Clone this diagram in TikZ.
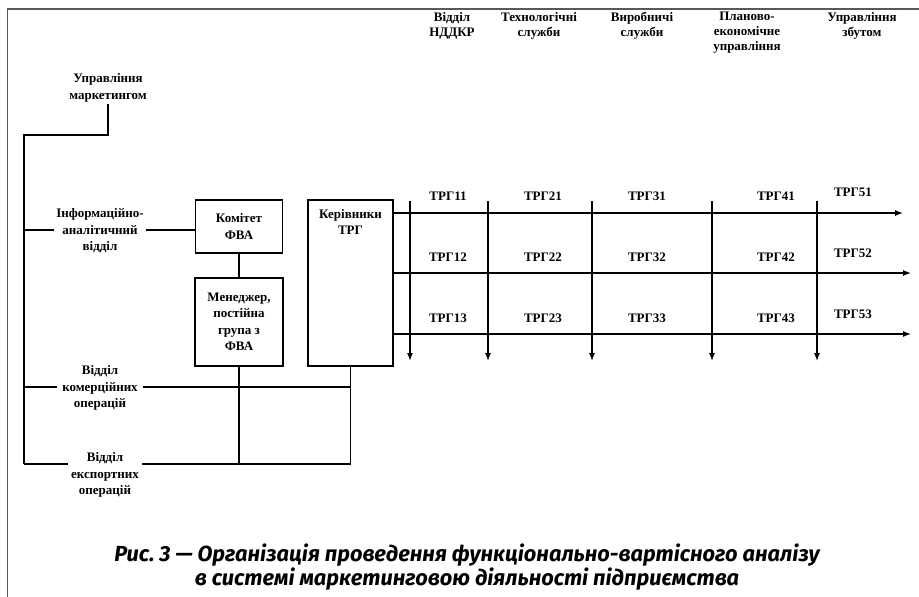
\documentclass[tikz,border=0pt]{standalone}
\usepackage{fontspec}
\setmainfont{Liberation Serif}
\newfontfamily\capfont{Fira Sans}
\usetikzlibrary{calc,arrows.meta}

\begin{document}
\begin{tikzpicture}[x=1pt,y=-1pt]

\tikzset{dept/.style={font=\fontsize{13}{16.5}\selectfont\bfseries, align=center, inner sep=2pt},
head/.style={font=\fontsize{13}{15}\selectfont\bfseries, align=center},
box/.style={dept, draw, line width=1.2pt},
link/.style={line width=1.1pt},
arr/.style={link, -{Latex[length=8pt,width=6pt]}}}

\useasboundingbox (0,0) rectangle (919,597);
\draw[gray!70!black, line width=1.5pt] (919,9) -| (7.5,597);

% boxes
\node[box, minimum width=87, minimum height=53] (komitet) at (239,226.5) {Комітет\\ФВА};
\node[box, minimum width=88, minimum height=88] (manager) at (239,322) {Менеджер,\\постійна\\група з\\ФВА};
\node[box, minimum width=85, minimum height=166] (ker) at (350.5,283) {};
\node[dept] (kertxt) at (350.5,222) {Керівники\\ТРГ};
\node[dept] (market) at (108,88) {Управління\\маркетингом};

% left bus
\coordinate (b1) at (24,135);
\coordinate (b2) at (24,230);
\coordinate (b3) at (24,387);
\coordinate (b4) at (24,464);
\draw[link] (market.south) |- (b1) -- (b4);
\draw[link] (b2) -- (komitet.west |- b2);
\draw[link] (komitet) -- (manager);
\draw[link] (b3) -- (ker.south |- b3);
\draw[link] (manager.south) -- (manager.south |- b4);
\draw[link] (ker.south) -- (ker.south |- b4);
\draw[link] (b4) -- (ker.south |- b4);

\node[dept, fill=white] (info) at (100,231) {Інформаційно-\\аналітичний\\відділ};
\node[dept, fill=white, inner xsep=5pt] (comm) at (100,388) {Відділ\\комерційних\\операцій};
\node[dept, fill=white, inner xsep=3pt] (export) at (105,475) {Відділ\\експортних\\операцій};

% columns
\foreach \x/\y/\t [count=\i] in {452/25.5/{Відділ\\НДДКР}, 539/25.5/{Технологічні\\служби},
  642/25.5/{Виробничі\\служби}, 747/33/{Планово-\\економічне\\управління}, 862/25.5/{Управління\\збутом}}
{
\node[head] (h\i) at (\x,\y) {\t};
}

\foreach \x [count=\i] in {410,488,592,712,817}
{
\coordinate (v\i) at (\x,201);
\coordinate (w\i) at (\x,361);
\draw[arr] (v\i) -- (w\i);
}

\foreach \y/\e [count=\i] in {213/903,273/911,334/911}
{
\coordinate (e\i) at (\e,\y);
\draw[arr] (ker.east |- e\i) -- (e\i);
}

\foreach \c/\x/\d in {1/448/0,2/543/0,3/647/0,4/776/0,5/853/-4}
	\foreach \r/\y in {1/196,2/257,3/318}
	{
	\node[dept] (t\c\r) at (\x,\y+\d) {ТРГ\c\r};
	}

\node[font=\capfont\fontsize{21.8}{20}\selectfont\bfseries\itshape, align=center] (caption) at (467,567)
  {Рис.~3 — Організація проведення функціонально-вартісного аналізу\\в системі маркетинговою діяльності підприємства};

\end{tikzpicture}
\end{document}
